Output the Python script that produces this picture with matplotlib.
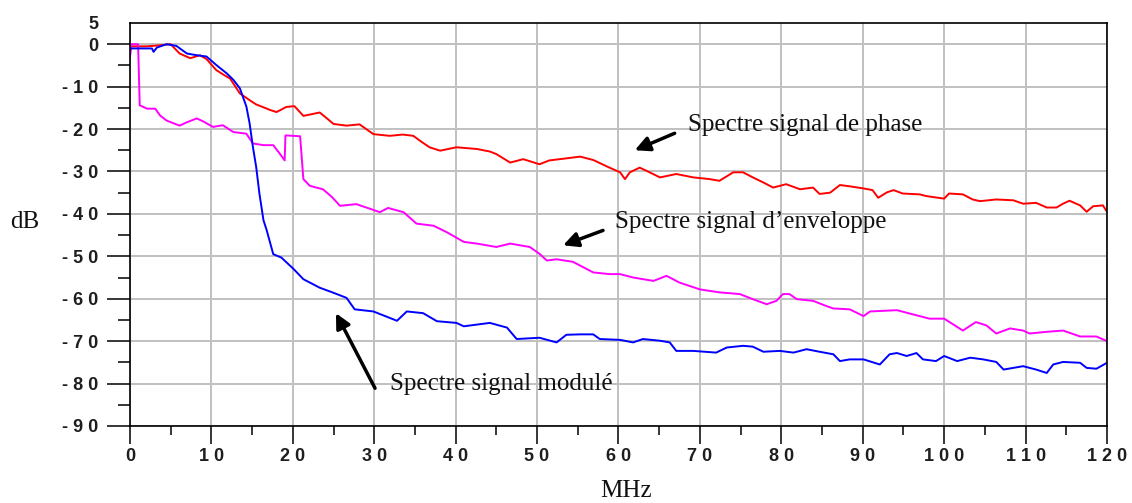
import matplotlib.pyplot as plt
from matplotlib.ticker import MultipleLocator

# Spectre signal de phase (rouge)
phase_mhz = [0, 2, 3.5, 5, 6.1, 7.4, 8.6, 9.4, 10.6, 11.5, 12.3, 13.5, 14.7, 15.5, 16.3,
             17.2, 18, 19.2, 20.2, 21.3, 22.3, 23.3, 24.2, 25, 26.6, 28.2, 29.9, 31.9,
             33.5, 34.8, 35.8, 36.8, 38.1, 40.1, 42.6, 44.2, 45, 46.7, 48.3, 50.3, 51.5,
             52.8, 55.3, 56.9, 58.9, 60.2, 60.8, 61.4, 62.6, 63.4, 65.1, 67.1, 69.2, 71.2,
             72.4, 74.1, 75.3, 76.5, 77.8, 79, 80.6, 82.3, 83.9, 84.7, 86, 87.2, 88.4,
             90.1, 91.2, 91.9, 93, 93.8, 94.9, 97, 97.8, 100, 100.6, 102.3, 103.5, 104.4,
             106.4, 108.5, 109.7, 111.3, 112.6, 113.8, 114.6, 115.4, 116.7, 117.5, 118.3,
             119.5, 120]
phase_db = [-0.5, -0.5, -0.3, 0, -2.2, -3.3, -2.6, -3.5, -6.1, -7.2, -8.1, -11.6, -13.2, -14.2, -14.8,
            -15.5, -16, -14.8, -14.6, -16.9, -16.5, -16.1, -17.5, -18.8, -19.2, -18.9, -21.2, -21.6,
            -21.3, -21.6, -23.0, -24.3, -25.1, -24.3, -24.7, -25.3, -25.9, -27.9, -27.1, -28.3, -27.4,
            -27.1, -26.5, -27.3, -29.1, -30.2, -31.8, -30.2, -29.1, -29.8, -31.4, -30.6, -31.4, -31.8,
            -32.2, -30.2, -30.2, -31.4, -32.6, -33.8, -33.0, -34.2, -33.8, -35.3, -35.0, -33.2, -33.5,
            -34.0, -34.4, -36.2, -34.9, -34.4, -35.2, -35.4, -35.8, -36.4, -35.2, -35.4, -36.6, -37.0,
            -36.6, -36.8, -37.6, -37.4, -38.5, -38.5, -37.6, -36.9, -38, -39.5, -38.2,
            -38, -39.5]

# Spectre signal d'enveloppe (magenta)
env_mhz = [0, 0.2, 1.0, 1.2, 2.1, 3.1, 3.7, 4.5, 6.1, 7.0, 8.2, 9.0, 10.2, 11.4, 12.7, 14.3,
           15.1, 16.4, 17.6, 18.4, 19.0, 19.1, 20.9, 21.3, 22.1, 23.7, 24.8, 25.8, 27.8, 29.5,
           30.7, 31.7, 33.6, 35.2, 37.3, 38.9, 41, 42.6, 45, 46.7, 49.1, 50.3, 51.2, 52.4, 54.4,
           55.7, 56.9, 58.9, 60.2, 61.8, 64.3, 65.9, 67.5, 70, 72.4, 74.9, 76.5, 78.2, 79.4,
           80.2, 81, 81.9, 83.9, 85.5, 86.4, 88.4, 90.1, 90.9, 94.2, 95.8, 98.2, 100, 102.3,
           103.9, 105.2, 106.4, 108.1, 109.7, 110.5, 112.6, 114.6, 116.7, 118.7, 120]
env_db = [-3, 0, 0, -14.4, -15.2, -15.2, -16.8, -18, -19.2, -18.4, -17.5, -18.2, -19.5, -19.1, -20.7, -21.1,
          -23.4, -23.8, -23.8, -25.8, -27.4, -21.5, -21.7, -31.8, -33.4, -34.2, -36.0, -38.1, -37.7, -38.8,
          -39.6, -38.6, -39.6, -42.3, -42.8, -44.3, -46.6, -47.0, -47.8, -47.0, -47.8, -49.4, -51.0, -50.7, -51.3,
          -52.6, -53.8, -54.2, -54.2, -55, -55.8, -54.6, -56.2, -57.8, -58.5, -58.9, -60.1, -61.3, -60.5,
          -58.9, -58.9, -60.1, -60.5, -61.7, -62.3, -62.5, -64.1, -63, -62.7, -63.5, -64.7, -64.7, -67.5,
          -65.5, -66.3, -68.2, -67, -67.5, -68.2, -67.8, -67.5, -68.9, -68.9, -70]

# Spectre signal modulé (bleu)
mod_mhz = [0, 2.7, 2.9, 3.3, 4.5, 5.7, 7.0, 8.2, 9.4, 10.6, 11.9, 12.7, 13.5, 14.3, 14.7, 15.1,
           15.5, 15.9, 16.4, 16.8, 17.6, 18.6, 20.1, 21.3, 22.5, 23.3, 25, 26.6, 27.6, 29.9,
           32.8, 34, 36, 37.7, 40.1, 41, 44.2, 46.3, 47.5, 50.3, 52.4, 53.6, 55.3, 56.9, 57.7,
           60.2, 61.8, 63, 65.1, 66.3, 67.1, 69.2, 72, 73.3, 75.3, 76.5, 77.8, 79.8, 81.5,
           83.1, 84.7, 86.4, 87.2, 88.4, 90.1, 92.1, 93.3, 94.2, 95.4, 96.6, 97.4, 99, 100,
           101.6, 103.2, 104.8, 106.4, 107.3, 109.7, 111.3, 112.6, 113.4, 114.6, 116.7, 117.5,
           118.7, 120]
mod_db = [-1.0, -1.0, -1.8, -0.8, 0, -0.4, -2.2, -2.6, -2.9, -4.9, -6.9, -8.4, -10.4, -14.7, -18.7, -24.2,
          -28.9, -35.2, -41.5, -43.9, -49.5, -50.3, -53.0, -55.4, -56.6, -57.4, -58.6, -59.8, -62.5, -63.0,
          -65.2, -63.0, -63.4, -65.3, -65.7, -66.5, -65.7, -66.8, -69.5, -69.2, -70.3, -68.5, -68.4, -68.4, -69.5,
          -69.7, -70.3, -69.5, -69.9, -70.3, -72.3, -72.3, -72.7, -71.5, -71.1, -71.3, -72.5, -72.3, -72.7,
          -71.9, -72.5, -73.1, -74.7, -74.3, -74.3, -75.5, -73.1, -72.8, -73.5, -72.8, -74.3, -74.7, -73.5,
          -74.7, -73.9, -74.3, -74.9, -76.7, -75.9, -76.7, -77.5, -75.5, -74.9, -75.1, -76.3,
          -76.5, -75.1]

xticks = [0, 10, 20, 30, 40, 50, 60, 70, 80, 90, 100, 110, 120]
xtick_labels = ["0", "1 0", "2 0", "3 0", "4 0", "5 0", "6 0", "7 0", "8 0", "9 0",
                "1 0 0", "1 1 0", "1 2 0"]
yticks = [-90, -80, -70, -60, -50, -40, -30, -20, -10, 0, 5]
ytick_labels = ["- 9 0", "- 8 0", "- 7 0", "- 6 0", "- 5 0", "- 4 0", "- 3 0", "- 2 0",
                "- 1 0", "0", "5"]

TICK_FONT = dict(family="Liberation Sans", weight="bold", size=13)
TEXT_FONT = "Liberation Serif"

fig = plt.figure(figsize=(11.32, 5.03), dpi=100)
ax = fig.add_axes([0.1148, 0.1531, 0.8631, 0.8012])

# traces de spectre
ax.plot(phase_mhz, phase_db, color="#ff0000", lw=1.4)
ax.plot(env_mhz, env_db, color="#ff00ff", lw=1.4)
ax.plot(mod_mhz, mod_db, color="#0000ff", lw=1.4)

ax.set_xlim(0, 120)
ax.set_ylim(-90, 5)
ax.set_xticks(xticks)
ax.set_xticklabels(xtick_labels, fontdict=TICK_FONT, color="#1e1e1e")
ax.set_yticks(yticks)
ax.set_yticklabels(ytick_labels, fontdict=TICK_FONT, color="#1e1e1e")
ax.xaxis.set_minor_locator(MultipleLocator(5))
ax.yaxis.set_minor_locator(MultipleLocator(5))
ax.tick_params(axis="y", which="major", length=16.5, width=1.1, pad=6)
ax.tick_params(axis="y", which="minor", length=8.5, width=1.1)
ax.tick_params(axis="x", which="major", length=13, width=1.1, pad=3)
ax.tick_params(axis="x", which="minor", length=6.5, width=1.1)
ax.grid(True, which="major", color="#c0c0c0", lw=1.4)
ax.set_axisbelow(True)
top_tick = ax.yaxis.get_major_ticks()[-1]
top_tick.tick1line.set_visible(False)
top_tick.gridline.set_visible(False)
for side in ax.spines.values():
    side.set_linewidth(1.2)
    side.set_color("black")

fig.text(25 / 1132, 1 - 228 / 503, "dB", family=TEXT_FONT, fontsize=18,
         ha="center", va="baseline", color="#111111")
fig.text(626 / 1132, 1 - 497 / 503, "MHz", family=TEXT_FONT, fontsize=18,
         ha="center", va="baseline", color="#111111")

# flèches + étiquettes
arrow = dict(arrowstyle="-|>", color="black", lw=2.5, mutation_scale=22, shrinkA=0, shrinkB=0)
ax.annotate("", xy=(62.0, -25.0), xytext=(66.9, -21.0), arrowprops=arrow)
ax.annotate("", xy=(53.2, -47.4), xytext=(58.1, -43.9), arrowprops=arrow)
ax.annotate("", xy=(25.3, -63.4), xytext=(30.1, -81.1), arrowprops=arrow)
ax.text(68.5, -20.5, "Spectre signal de phase", family=TEXT_FONT, fontsize=18,
        va="baseline", color="#111111")
ax.text(59.6, -43.4, "Spectre signal d\u2019enveloppe", family=TEXT_FONT, fontsize=18,
        va="baseline", color="#111111")
ax.text(31.9, -81.6, "Spectre signal modul\u00e9", family=TEXT_FONT, fontsize=18,
        va="baseline", color="#111111")

fig.savefig("out.png", dpi=100)
